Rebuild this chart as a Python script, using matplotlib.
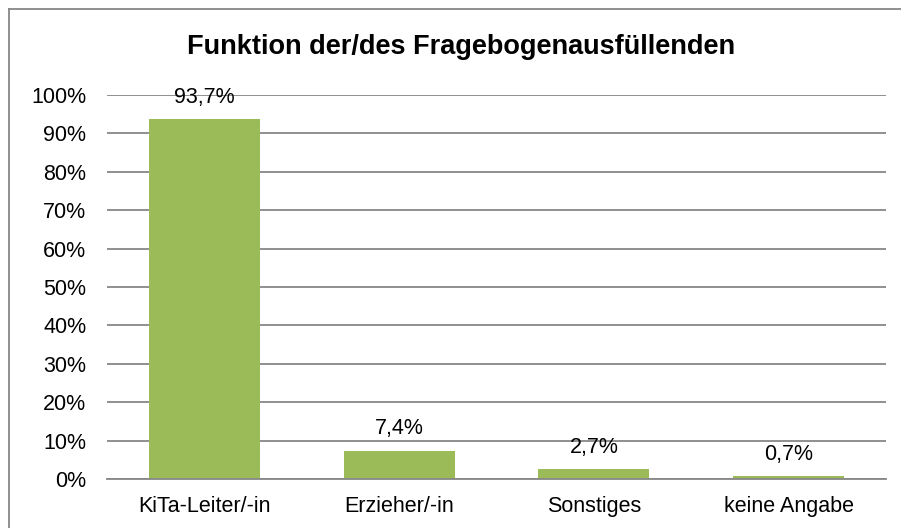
import matplotlib
matplotlib.use("Agg")
import matplotlib.pyplot as plt
from matplotlib.ticker import FuncFormatter
from matplotlib.lines import Line2D

categories = ["KiTa-Leiter/-in", "Erzieher/-in", "Sonstiges", "keine Angabe"]
values = [93.7, 7.4, 2.7, 0.7]
value_labels = ["93,7%", "7,4%", "2,7%", "0,7%"]
yticks = [0, 10, 20, 30, 40, 50, 60, 70, 80, 90, 100]

plt.rcParams['font.family'] = ['Liberation Sans', 'DejaVu Sans']

W, H = 901, 528
fig = plt.figure(figsize=(W / 100, H / 100), dpi=100)
ax = fig.add_axes([107 / W, 1 - 479 / H, (886 - 107) / W, (479 - 95) / H])

fs = 15.5
x = range(len(categories))
ax.bar(x, values, width=0.57, color="#9BBB59", zorder=3)
ax.set_xlim(-0.5, len(categories) - 0.5)
ax.set_ylim(0, 100)
ax.set_yticks(yticks)
ax.yaxis.set_major_formatter(FuncFormatter(lambda v, p: f"{int(v)}%"))
ax.set_xticks(list(x))
ax.set_xticklabels(categories)
ax.tick_params(axis="both", length=0, labelsize=fs)
ax.tick_params(axis="y", pad=15)
ax.tick_params(axis="x", pad=12)
ax.grid(axis="y", color="#878787", linewidth=1.3, zorder=0)
for s in ["top", "right", "left"]:
    ax.spines[s].set_visible(False)
ax.spines["bottom"].set_color("#878787")
ax.spines["bottom"].set_linewidth(1.3)
ax.spines["bottom"].set_zorder(4)

for xi, v, lab in zip(x, values, value_labels):
    ax.annotate(lab, (xi, v), xytext=(0, 8), textcoords="offset points",
                ha="center", va="bottom", fontsize=fs, zorder=5)

fig.text(461 / W, 1 - 47 / H, "Funktion der/des Fragebogenausfüllenden",
         ha="center", va="center", fontsize=19.5, fontweight="bold")

# outer chart border
fig.add_artist(Line2D([8.5 / W, 8.5 / W], [0, 1 - 8.5 / H], transform=fig.transFigure,
                      color="#878787", linewidth=1.3))
fig.add_artist(Line2D([8.5 / W, 1], [1 - 8.5 / H, 1 - 8.5 / H], transform=fig.transFigure,
                      color="#878787", linewidth=1.3))

fig.savefig("out.png", dpi=100)
